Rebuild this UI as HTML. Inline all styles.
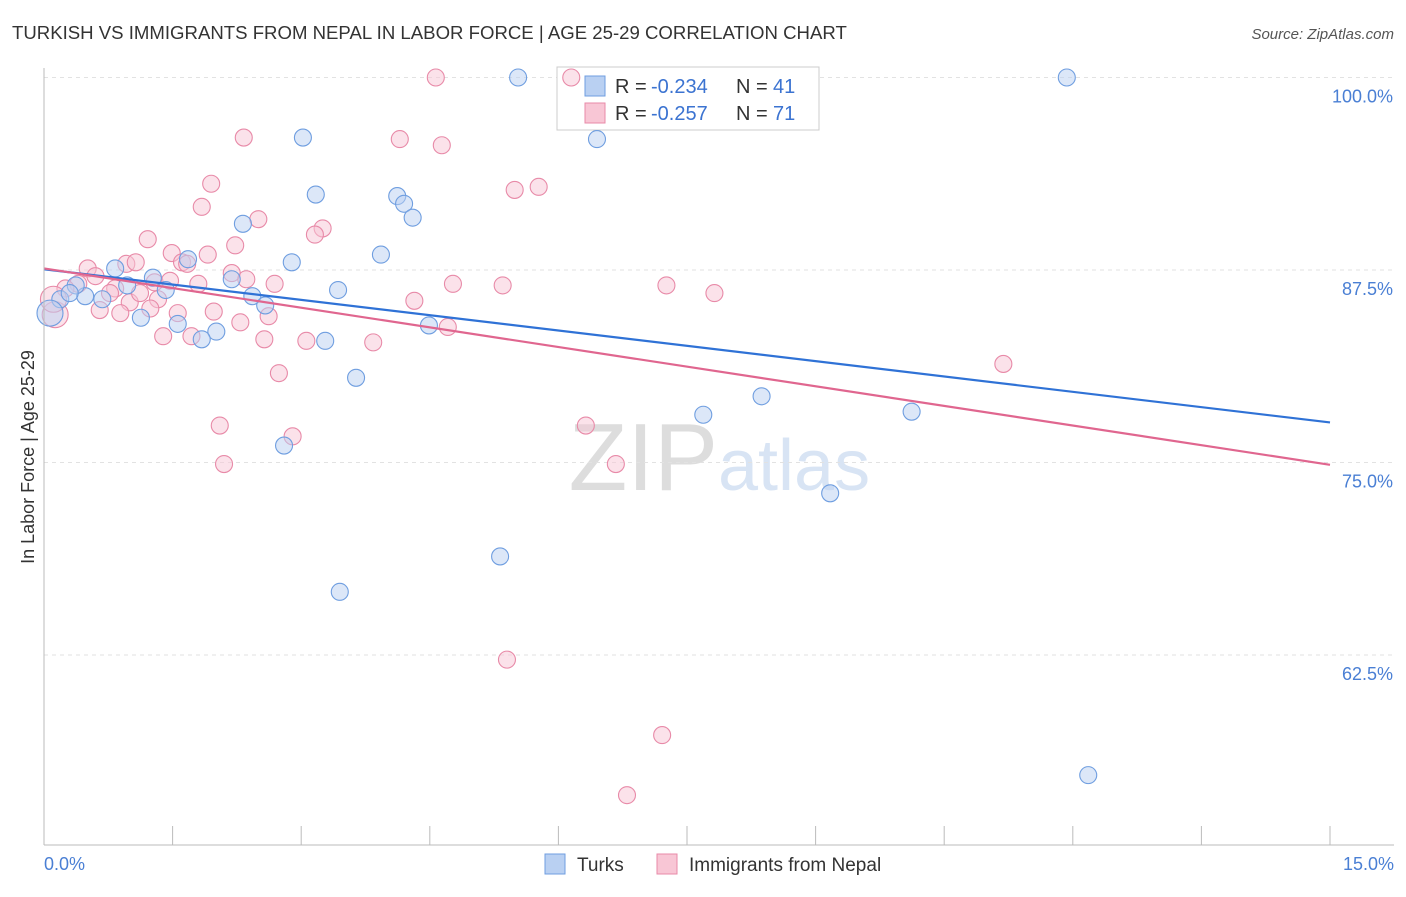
<!DOCTYPE html>
<html><head><meta charset="utf-8"><style>
body{margin:0;background:#fff;font-family:"Liberation Sans",sans-serif}
svg text{font-family:"Liberation Sans",sans-serif}
</style></head><body>
<svg id="chart" width="1406" height="892">
<text x="12" y="39" font-size="18.6" fill="#333">TURKISH VS IMMIGRANTS FROM NEPAL IN LABOR FORCE | AGE 25-29 CORRELATION CHART</text>
<text x="1394" y="39" font-size="15" fill="#555" font-style="italic" text-anchor="end">Source: ZipAtlas.com</text>
<text x="718" y="490" font-size="96" fill="#ddd" text-anchor="end" font-family="Liberation Serif">ZIP</text>
<text x="718" y="490" font-size="72" fill="#d8e4f4">atlas</text>
<g id="grid"></g>
<g>
<rect x="557" y="67" width="262" height="63" fill="#fff" stroke="#ccc"/>
<rect x="585" y="76" width="20" height="20" fill="#b9d0f2" stroke="#6f9ee0"/>
<rect x="585" y="103" width="20" height="20" fill="#f8c6d5" stroke="#e88aa8"/>
<text x="615" y="93" font-size="20" fill="#333">R =</text>
<text x="651" y="93" font-size="20" fill="#3b73d1">-0.234</text>
<text x="736" y="93" font-size="20" fill="#333">N =</text>
<text x="773" y="93" font-size="20" fill="#3b73d1">41</text>
<text x="615" y="120" font-size="20" fill="#333">R =</text>
<text x="651" y="120" font-size="20" fill="#3b73d1">-0.257</text>
<text x="736" y="120" font-size="20" fill="#333">N =</text>
<text x="773" y="120" font-size="20" fill="#3b73d1">71</text>
</g>
<g id="pts"></g><g id="lines"></g>
<line x1="44" y1="68" x2="44" y2="845" stroke="#bbb"/>
<line x1="44" y1="845" x2="1394" y2="845" stroke="#bbb"/>
<text x="34" y="457" font-size="18" fill="#333" text-anchor="middle" transform="rotate(-90 34 457)">In Labor Force | Age 25-29</text>
<text x="44" y="870" font-size="18" fill="#4a7fd4">0.0%</text>
<text x="1394" y="870" font-size="18" fill="#4a7fd4" text-anchor="end">15.0%</text>
<g>
<rect x="545" y="854" width="20" height="20" fill="#b9d0f2" stroke="#6f9ee0"/>
<text x="577" y="871" font-size="19" fill="#333">Turks</text>
<rect x="657" y="854" width="20" height="20" fill="#f8c6d5" stroke="#e88aa8"/>
<text x="689" y="871" font-size="19" fill="#333">Immigrants from Nepal</text>
</g>
</svg>
<script>
const yTicks=[100,87.5,75,62.5];
const xTicks=[0,1.5,3,4.5,6,7.5,9,10.5,12,13.5,15];
const turksX=[5.53,11.93,3.02,6.45,3.17,4.12,4.20,4.30,2.32,3.93,2.89,1.68,0.83,1.27,2.19,0.97,1.42,3.43,2.43,2.58,0.68,0.48,0.19,0.07,1.13,1.56,2.01,1.84,3.28,4.49,3.64,8.37,7.69,10.12,2.80,9.17,5.32,3.45,12.18,0.37,0.30];
const turksY=[100,100,96.1,96.0,92.4,92.3,91.8,90.9,90.5,88.5,88.0,88.2,87.6,87.0,86.9,86.5,86.2,86.2,85.8,85.2,85.6,85.8,85.6,84.7,84.4,84.0,83.5,83.0,82.9,83.9,80.5,79.3,78.1,78.3,76.1,73.0,68.9,66.6,54.7,86.5,86.0];
const nepalX=[4.57,6.15,2.33,4.15,4.64,1.95,5.77,5.49,1.84,2.50,3.25,3.16,1.21,2.23,1.49,1.91,1.61,0.96,0.51,1.07,2.19,2.36,2.69,1.80,1.29,4.77,5.35,7.26,7.82,0.40,0.25,0.83,0.77,1.33,1.00,4.32,0.65,0.89,1.98,1.56,2.62,2.29,4.71,1.39,1.72,2.57,3.06,3.84,11.19,2.74,2.05,2.90,6.32,2.10,6.67,5.40,7.21,6.80,0.13,0.11,0.60,1.12,1.24,1.47,1.67];
const nepalY=[100,100,96.1,96.0,95.6,93.1,92.9,92.7,91.6,90.8,90.2,89.8,89.5,89.1,88.6,88.5,88.0,87.9,87.6,88.0,87.3,86.9,86.6,86.6,86.7,86.6,86.5,86.5,86.0,86.6,86.3,86.3,86.0,85.6,85.4,85.5,84.9,84.7,84.8,84.7,84.5,84.1,83.8,83.2,83.2,83.0,82.9,82.8,81.4,80.8,77.4,76.7,77.4,74.9,74.9,62.2,57.3,53.4,84.6,85.6,87.1,86.0,85.0,86.8,87.9];
const turksTrend=[87.55,77.6];
const nepalTrend=[87.6,74.85];
const X0=44,X1=1330;
const sx=v=>X0+(v/15)*(X1-X0);
const sy=v=>270-(v-87.5)*(192.5/12.5);
const NS="http://www.w3.org/2000/svg";
const grid=document.getElementById('grid'),pts=document.getElementById('pts'),lines=document.getElementById('lines');
function mk(tag,at,parent){const e=document.createElementNS(NS,tag);for(const k in at)e.setAttribute(k,at[k]);parent.appendChild(e);return e;}
const tl=mk('line',{x1:X0,x2:1394,y1:sy(100),y2:sy(100),stroke:'#e2e2e2','stroke-dasharray':'4,4'},grid);


yTicks.forEach(v=>{
 const l=mk('line',{x1:X0,x2:1394,y1:sy(v),y2:sy(v),stroke:'#e2e2e2','stroke-dasharray':'4,4'},grid);
 
 
 const t=mk('text',{x:1393,y:sy(v)+25,'font-size':18,fill:'#4a7fd4','text-anchor':'end'},grid);
 t.textContent=v.toFixed(1)+'%';
 
 
});
xTicks.forEach(v=>{
 const l=mk('line',{x1:sx(v),x2:sx(v),y1:826,y2:845,stroke:'#bbb'},grid);
 
 
});
function series(xs,ys,fill,stroke,name){
 xs.forEach((x,i)=>{
  const big=x<0.15;
  const c=mk('circle',{cx:sx(x),cy:sy(ys[i]),r:big?13:8.5,fill:fill,'fill-opacity':0.5,stroke:stroke,'stroke-width':1.1},pts);
  
  
 });
}
series(nepalX,nepalY,'#f8c6d5','#e88aa8','nepal-point');
series(turksX,turksY,'#b9d0f2','#6f9ee0','turks-point');
const l1=mk('line',{x1:X0,x2:X1,y1:sy(turksTrend[0]),y2:sy(turksTrend[1]),stroke:'#2f72d6','stroke-width':2.2},lines);


const l2=mk('line',{x1:X0,x2:X1,y1:sy(nepalTrend[0]),y2:sy(nepalTrend[1]),stroke:'#e0668f','stroke-width':2.2},lines);


</script>
</body></html>
